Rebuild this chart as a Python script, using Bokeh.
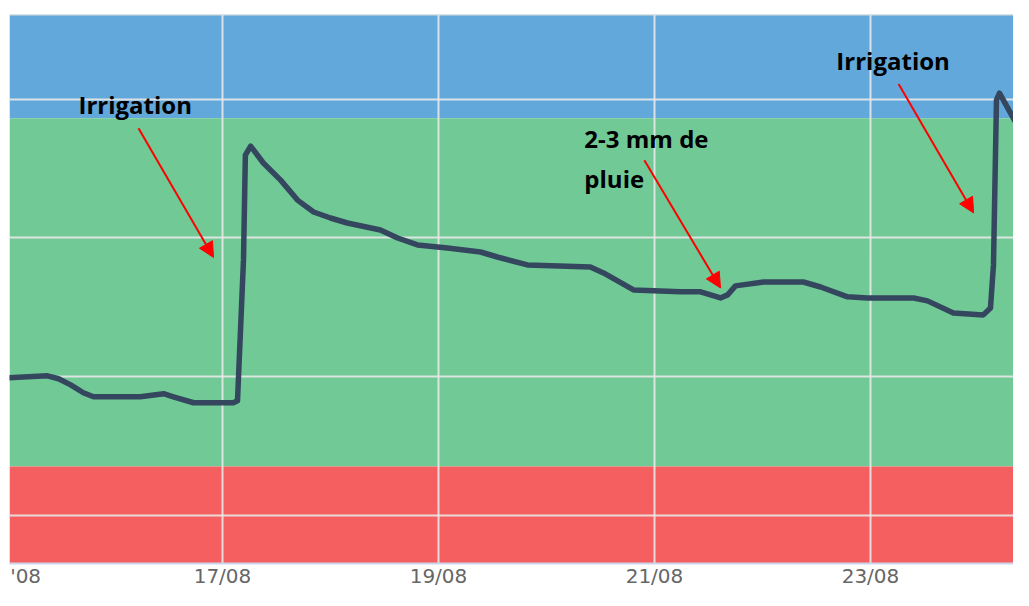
import pandas as pd
from bokeh.plotting import figure
from bokeh.models import (BoxAnnotation, Span, Arrow, NormalHead, Label,
                          FixedTicker, DatetimeTickFormatter, Range1d)
from bokeh.embed import file_html
from bokeh.resources import INLINE

# ---------------- data ----------------
times = [
    "2023-08-15 00:00", "2023-08-15 09:05", "2023-08-15 11:35", "2023-08-15 14:15",
    "2023-08-15 17:05", "2023-08-15 19:20", "2023-08-16 05:45", "2023-08-16 10:55",
    "2023-08-16 13:05", "2023-08-16 17:35", "2023-08-17 02:25", "2023-08-17 03:20",
    "2023-08-17 04:40", "2023-08-17 05:05", "2023-08-17 06:15", "2023-08-17 09:05",
    "2023-08-17 12:55", "2023-08-17 16:40", "2023-08-17 20:15", "2023-08-18 00:00",
    "2023-08-18 03:45", "2023-08-18 11:05", "2023-08-18 14:55", "2023-08-18 19:20",
    "2023-08-19 02:00", "2023-08-19 09:20", "2023-08-19 13:05", "2023-08-19 19:45",
    "2023-08-20 09:45", "2023-08-20 12:40", "2023-08-20 19:20", "2023-08-21 05:45",
    "2023-08-21 10:15", "2023-08-21 14:40", "2023-08-21 16:15", "2023-08-21 18:00",
    "2023-08-22 00:15", "2023-08-22 09:05", "2023-08-22 12:55", "2023-08-22 18:55",
    "2023-08-22 23:20", "2023-08-23 09:35", "2023-08-23 12:40", "2023-08-23 18:25",
    "2023-08-24 01:05", "2023-08-24 02:40", "2023-08-24 03:20", "2023-08-24 04:00",
    "2023-08-24 04:40", "2023-08-24 11:20", "2023-08-24 14:55",
]
values = [
    19.93, 20.07, 19.86, 19.42,
    18.85, 18.56, 18.56, 18.78,
    18.56, 18.13, 18.13, 18.27,
    28.42, 35.97, 36.62, 35.40,
    34.17, 32.73, 31.87, 31.44,
    31.08, 30.58, 30.00, 29.50,
    29.28, 28.99, 28.63, 28.06,
    27.91, 27.48, 26.26, 26.12,
    26.12, 25.68, 25.90, 26.55,
    26.83, 26.83, 26.47, 25.76,
    25.68, 25.68, 25.47, 24.60,
    24.46, 24.96, 28.06, 39.93,
    40.43, 36.55, 35.00,
]

grid_days = ["2023-08-15", "2023-08-17", "2023-08-19", "2023-08-21", "2023-08-23"]
# the 15/08 label is cut at the plot's left edge: only "'08" is visible
cut_label_time = "2023-08-15 04:15"
cut_label_text = "'08"
y_grid = [10, 20, 30, 40]

x_start, x_end = "2023-08-15 00:40", "2023-08-24 07:47"
y_start, y_end = 6.55, 46.1

band_red_top = 13.53
band_blue_bottom = 38.63

ann_texts = ["Irrigation", "2-3 mm de", "pluie", "Irrigation"]
ann_times = ["2023-08-15 16:00", "2023-08-20 08:25", "2023-08-20 08:25", "2023-08-22 16:25"]
ann_values = [39.62, 37.2, 34.3, 42.8]

arrow_t0 = ["2023-08-16 05:20", "2023-08-20 21:45", "2023-08-23 06:15"]
arrow_v0 = [37.9, 35.6, 41.1]
arrow_t1 = ["2023-08-16 22:00", "2023-08-21 14:40", "2023-08-23 22:55"]
arrow_v1 = [28.6, 26.4, 31.8]


def ms(t):
    return pd.Timestamp(t).value / 1e6


# ---------------- figure ----------------
p = figure(width=1013, height=590, x_axis_type="datetime",
           output_backend="svg", toolbar_location=None,
           x_range=Range1d(pd.Timestamp(x_start), pd.Timestamp(x_end)),
           y_range=Range1d(y_start, y_end),
           min_border_left=9, min_border_right=0, min_border_top=14,
           min_border_bottom=0,
           background_fill_color="white", border_fill_color="white")
p.outline_line_color = None

# colored bands
p.add_layout(BoxAnnotation(bottom=band_blue_bottom, fill_color="#62A8DB",
                           fill_alpha=1, line_color=None, level="image"))
p.add_layout(BoxAnnotation(bottom=band_red_top, top=band_blue_bottom,
                           fill_color="#71C996", fill_alpha=1, line_color=None,
                           level="image"))
p.add_layout(BoxAnnotation(top=band_red_top, fill_color="#F65F5F",
                           fill_alpha=1, line_color=None, level="image"))

# axes and grid
grid_ms = [ms(d) for d in grid_days]
cut_ms = ms(cut_label_time)
p.xaxis.ticker = FixedTicker(ticks=[cut_ms] + grid_ms[1:])
fmt = "%d/%m"
p.xaxis.formatter = DatetimeTickFormatter(days=fmt, months=fmt, hours=fmt,
                                          years=fmt, minutes=fmt, seconds=fmt,
                                          milliseconds=fmt, microseconds=fmt,
                                          minsec=fmt, hourmin=fmt)
p.xaxis.major_label_overrides = {cut_ms: cut_label_text}
p.xaxis.axis_line_color = "#ccd6eb"
p.xaxis.axis_line_width = 2
p.xaxis.major_tick_line_color = None
p.xaxis.minor_tick_line_color = None
p.xaxis.major_tick_out = 0
p.xaxis.major_tick_in = 0
p.xaxis.minor_tick_out = 0
p.xaxis.major_label_standoff = 0
p.xaxis.major_label_text_font = "DejaVu Sans"
p.xaxis.major_label_text_font_size = "20px"
p.xaxis.major_label_text_color = "#666666"
p.yaxis.visible = False

p.xgrid.ticker = FixedTicker(ticks=grid_ms)
p.ygrid.ticker = FixedTicker(ticks=y_grid)
for g in (p.xgrid, p.ygrid):
    g.grid_line_color = "#e8e8e8"
    g.grid_line_width = 2
    g.grid_line_alpha = 0.9

p.add_layout(Span(location=y_end, dimension="width", line_color="#d9d9d9",
                  line_width=2))

# series
p.line(pd.to_datetime(times), values, line_color="#34475F", line_width=5.5,
       line_join="round", line_cap="round")

# annotations
for t, v, s in zip(ann_texts, ann_times, ann_values):
    p.add_layout(Label(x=ms(v), y=s, text=t, text_font="Open Sans",
                       text_font_style="bold", text_font_size="24px",
                       text_color="black", text_baseline="alphabetic"))

for t0, v0, t1, v1 in zip(arrow_t0, arrow_v0, arrow_t1, arrow_v1):
    p.add_layout(Arrow(x_start=ms(t0), y_start=v0, x_end=ms(t1), y_end=v1,
                       line_color="#FF0000", line_width=2,
                       end=NormalHead(size=15, fill_color="#FF0000",
                                      line_color="#FF0000")))

open("out.html", "w").write(file_html(p, INLINE))
